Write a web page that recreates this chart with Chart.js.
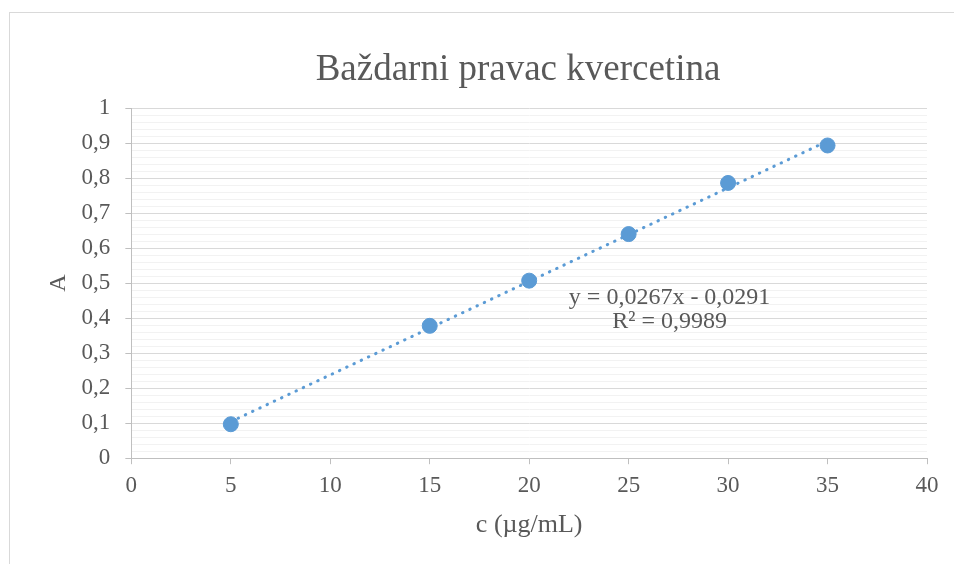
<!DOCTYPE html>
<html>
<head>
<meta charset="utf-8">
<title>Baždarni pravac kvercetina</title>
<script src="https://cdn.jsdelivr.net/npm/chart.js@4.4.1/dist/chart.umd.min.js"></script>
<style>
  body { margin: 0; background: #fff; }
  #wrap { position: relative; width: 954px; height: 564px; }
  #frame { position: absolute; left: 9px; top: 12px; right: 0; bottom: 0;
           border-left: 1px solid #d9d9d9; border-top: 1px solid #d9d9d9; }
  #chart { position: absolute; left: 0; top: 0; }
</style>
</head>
<body>
<div id="wrap">
  <div id="frame"></div>
  <canvas id="chart" width="954" height="564"></canvas>
</div>
<script>
// measured points (c in µg/mL, absorbance A)
const concentrations = [5, 15, 20, 25, 30, 35];
const absorbances = [0.097, 0.378, 0.507, 0.640, 0.786, 0.893];

// linear trendline ends, y = 0,0267x - 0,0291
const trendX = [5, 35];
const trendY = [0.1044, 0.9054];
const equationLines = ['y = 0,0267x - 0,0291', 'R² = 0,9989'];
const chartTitle = 'Baždarni pravac kvercetina';

const grey = '#595959';
const blue = '#5b9bd5';
const serif = "'Liberation Serif', 'Times New Roman', serif";

function isMajor(v) {
  return Math.abs(v * 10 - Math.round(v * 10)) < 1e-6;
}

// title + equation text, drawn by hand so they sit where excel put them
const extraText = {
  id: 'extraText',
  afterDatasetsDraw(chart) {
    const { ctx, scales } = chart;
    ctx.save();
    ctx.fillStyle = grey;
    ctx.textAlign = 'center';
    ctx.textBaseline = 'alphabetic';
    ctx.font = '37px ' + serif;
    ctx.fillText(chartTitle, 518, 80);

    const px = scales.x.getPixelForValue(27.06);
    const py = scales.y.getPixelForValue(0.457);
    ctx.font = '24px ' + serif;
    ctx.textBaseline = 'middle';
    equationLines.forEach((t, i) => ctx.fillText(t, px, py + i * 24));
    ctx.restore();
  }
};

let ctx = document.getElementById('chart').getContext('2d');
let myChart = new Chart(ctx, {
  type: 'scatter',
  data: {
    datasets: [{
      label: 'trend',
      type: 'line',
      data: trendX.map((x, i) => ({ x: x, y: trendY[i] })),
      borderColor: blue,
      borderWidth: 3,
      borderDash: [0.5, 7.5],
      borderCapStyle: 'round',
      pointRadius: 0,
      fill: false
    }, {
      label: 'A',
      data: concentrations.map((x, i) => ({ x: x, y: absorbances[i] })),
      backgroundColor: blue,
      borderColor: blue,
      pointRadius: 7.5,
      pointHoverRadius: 7.5
    }]
  },
  options: {
    responsive: false,
    animation: false,
    layout: { padding: { left: 51, right: 27, top: 108, bottom: 23 } },
    plugins: {
      legend: { display: false },
      tooltip: { enabled: false },
      title: { display: false }
    },
    scales: {
      x: {
        type: 'linear',
        min: 0,
        max: 40,
        ticks: { stepSize: 5, color: grey, font: { family: serif, size: 23 }, padding: 8 },
        grid: { drawOnChartArea: false, tickLength: 6, color: '#bfbfbf' },
        border: { color: '#bfbfbf' },
        title: {
          display: true,
          text: 'c (µg/mL)',
          color: grey,
          font: { family: serif, size: 26 },
          padding: { top: 2, bottom: 0 }
        }
      },
      y: {
        min: 0,
        max: 1,
        ticks: {
          count: 51,
          autoSkip: false,
          color: grey,
          font: { family: serif, size: 23 },
          padding: 15,
          callback: v => isMajor(v) ? String(Math.round(v * 10) / 10).replace('.', ',') : ''
        },
        grid: {
          tickLength: 6,
          color: c => c.tick && isMajor(c.tick.value) ? '#d9d9d9' : '#f2f2f2',
          tickColor: c => c.tick && isMajor(c.tick.value) ? '#bfbfbf' : 'rgba(0,0,0,0)'
        },
        border: { color: '#bfbfbf' },
        title: {
          display: true,
          text: 'A',
          color: grey,
          font: { family: serif, size: 24, lineHeight: 0.65 },
          padding: { top: 0, bottom: 0 }
        }
      }
    }
  },
  plugins: [extraText]
});
</script>
</body>
</html>
